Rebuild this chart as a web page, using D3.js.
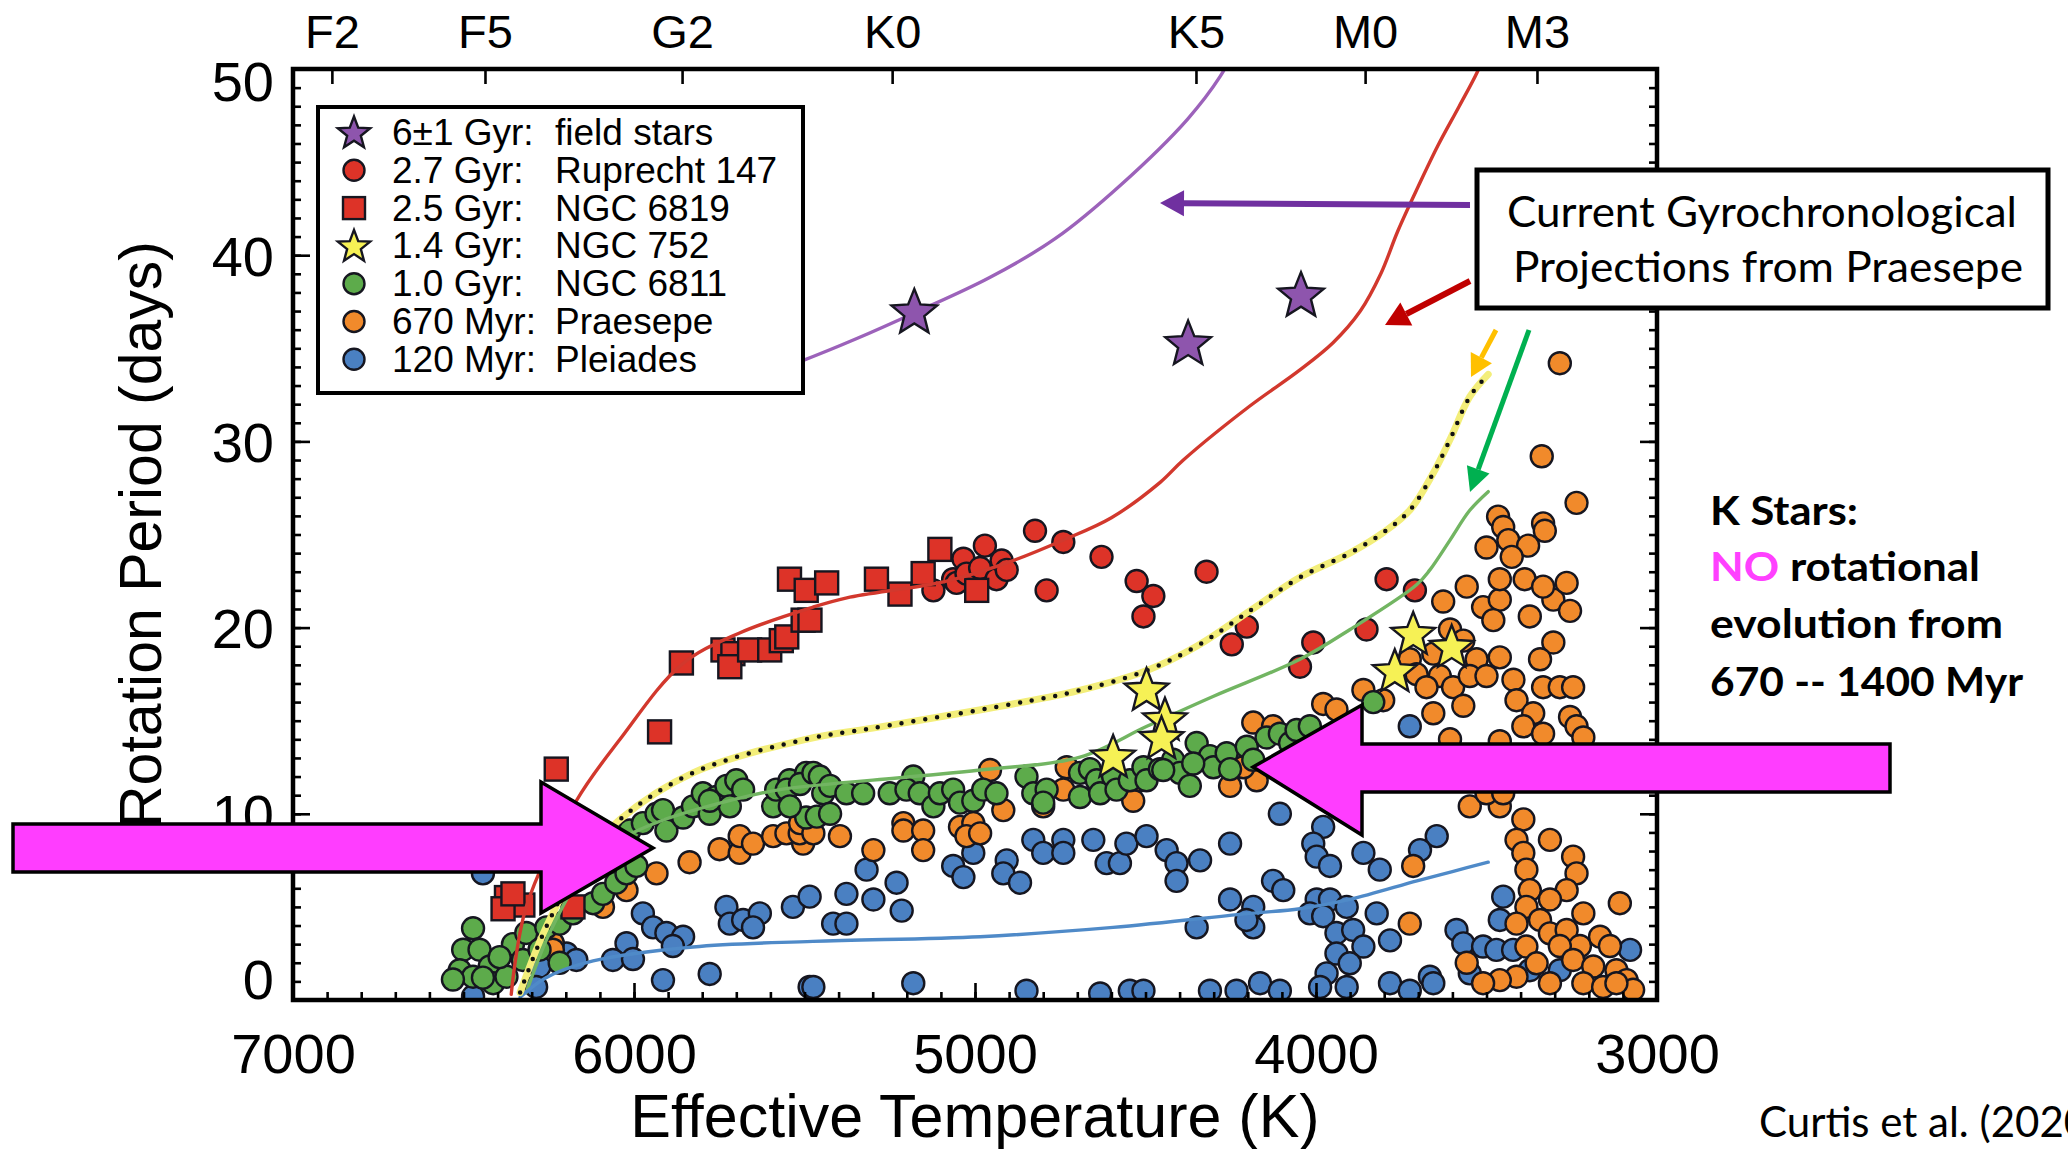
<!DOCTYPE html>
<html>
<head>
<meta charset="utf-8">
<script src="https://cdn.jsdelivr.net/npm/d3@7"></script>
<style>
  html, body { margin: 0; padding: 0; background: #fff; overflow: hidden; }
  svg { display: block; }
</style>
</head>
<body>
<svg id="chart" width="2068" height="1149"></svg>
<script>
// ---------- data: [effective temperature (K), rotation period (days)] ----------
const fieldStars = [[5178, 36.9], [4375, 35.2], [4044, 37.8]];

const ngc752 = [[4497, 16.6], [4443, 15.0], [4453, 14.0], [4595, 13.0], [3715, 19.6], [3602, 18.9], [3769, 17.6]];

const ngc6819 = [
  [6228, 12.4], [5925, 14.4], [5861, 18.1], [5739, 18.8], [5710, 18.6], [5719, 17.9], [5661, 18.8],
  [5602, 18.8], [5568, 19.3], [5552, 19.5], [5544, 22.6], [5495, 22.0], [5504, 20.4], [5484, 20.4],
  [5435, 22.4], [5289, 22.6], [5220, 21.8], [5152, 22.9], [5103, 24.2], [4995, 22.0],
  [6374, 5.5], [6326, 5.1], [6384, 4.9], [6355, 5.7], [6179, 5.0]
];

const ruprecht147 = [
  [5122, 22.0], [5064, 22.6], [5054, 22.4], [5034, 23.7], [5025, 22.9], [4985, 23.2], [4971, 24.4],
  [4937, 22.6], [4922, 23.6], [4907, 23.1], [4824, 25.2], [4790, 22.0], [4741, 24.6], [4629, 23.8],
  [4526, 22.5], [4477, 21.7], [4506, 20.6], [4321, 23.0], [4203, 20.05], [4247, 19.1], [4008, 19.2],
  [4047, 17.9], [3852, 19.9], [3793, 22.6], [3710, 22.0]
];

const ngc6811 = [
  [6472, 3.85], [6501, 2.7], [6453, 2.7], [6511, 1.6], [6472, 1.25], [6423, 1.8], [6413, 0.9], [6374, 1.25],
  [6355, 3.0], [6316, 3.6], [6326, 2.15], [6277, 2.7], [6218, 2.0], [6257, 3.9], [6218, 4.1], [6179, 4.65],
  [6120, 5.2], [6091, 5.7], [6052, 6.3], [6022, 6.8], [5993, 7.2], [6013, 9.1], [5974, 9.5], [5934, 10.0],
  [5915, 10.2], [5905, 9.1], [5856, 9.8], [5827, 10.4], [5798, 11.1], [5778, 10.0], [5759, 10.9], [5729, 11.5],
  [5700, 11.8], [5680, 11.3], [5719, 10.4], [5778, 10.7], [5592, 10.4], [5583, 11.3], [5544, 11.8], [5495, 12.2],
  [5495, 9.8], [6531, 1.1], [6394, 2.3], [6443, 1.2],
  [5552, 11.3], [5543, 10.4], [5513, 11.6], [5474, 12.2], [5455, 12.0], [5445, 11.1], [5425, 11.5], [5464, 9.85],
  [5425, 10.0], [5377, 11.1], [5328, 11.1], [5250, 11.1], [5181, 12.0], [5201, 11.3], [5162, 11.1], [5122, 10.4],
  [5103, 11.1], [5064, 11.3], [5044, 10.6], [5005, 10.7], [4976, 11.3], [4937, 11.1], [4849, 12.0], [4829, 11.1],
  [4790, 11.3], [4800, 10.6], [4692, 12.2], [4663, 12.4], [4692, 10.9], [4643, 11.8], [4633, 11.1], [4595, 12.0],
  [4585, 11.3], [4546, 11.8], [4506, 12.5], [4497, 11.8], [4458, 12.4], [4419, 12.9], [4399, 12.2], [4370, 11.5],
  [4350, 13.8], [4311, 13.1], [4301, 12.5], [4262, 13.25], [4252, 12.4], [4203, 13.6], [4184, 12.9], [4145, 14.1],
  [4106, 14.3], [4076, 13.8], [4057, 14.5], [4018, 14.7], [3832, 16.0], [4360, 12.7], [4448, 12.35]
];

const praesepe = [
  [5837, 7.4], [5934, 6.8], [5749, 8.1], [5690, 7.9], [5690, 8.8], [5651, 8.4], [5592, 8.8], [5553, 8.95],
  [5504, 8.4], [5514, 8.95], [6091, 5.0], [6022, 5.9], [6238, 3.05], [6238, 2.7],
  [5513, 9.5], [5474, 8.95], [5396, 8.8], [5298, 8.05], [5210, 9.5], [5210, 9.1], [5152, 9.1], [5152, 8.05],
  [5044, 9.3], [5005, 9.5], [5025, 8.8], [4985, 8.95], [4956, 12.35], [4917, 10.2], [4800, 10.4], [4731, 12.5],
  [4741, 11.3], [4536, 10.7], [4516, 11.8], [4184, 14.9], [4126, 14.7], [4174, 11.8], [4252, 11.5],
  [4213, 12.5], [3979, 15.9], [3940, 15.6], [3861, 16.65], [3803, 16.1],
  [3627, 21.4], [3510, 21.1], [3461, 21.5], [3304, 21.5], [3255, 20.9], [3373, 20.6], [3480, 20.4],
  [3607, 19.9], [3568, 19.3], [3529, 18.3], [3461, 18.4], [3656, 18.6], [3725, 18.3], [3705, 17.5], [3637, 17.4],
  [3598, 16.8], [3676, 16.8], [3549, 17.4], [3500, 17.4], [3656, 15.4], [3568, 15.8],
  [3304, 19.2], [3343, 18.3], [3421, 17.2], [3334, 16.8], [3285, 16.8], [3246, 16.8], [3412, 16.1], [3363, 15.4],
  [3392, 14.7], [3255, 15.2], [3236, 14.7], [3216, 14.1], [3334, 14.3], [3461, 13.9],
  [3607, 14.0], [3549, 10.4], [3461, 10.4], [3500, 11.1], [3451, 11.1],
  [3392, 9.7], [3412, 8.6], [3392, 7.9], [3314, 8.6], [3246, 7.7], [3236, 6.8], [3383, 7.0], [3373, 5.9],
  [3265, 5.9], [3314, 5.4], [3216, 4.65], [3109, 5.2], [3383, 5.0], [3412, 4.1], [3343, 4.3], [3314, 3.58],
  [3265, 3.76], [3167, 3.4], [3138, 2.9], [3226, 2.9], [3285, 2.9], [3383, 2.87], [3353, 1.97], [3246, 2.15],
  [3187, 1.8], [3119, 1.6], [3089, 1.07], [3412, 1.25], [3461, 1.07], [3510, 0.9], [3558, 2.0], [3314, 0.9],
  [3216, 0.9], [3158, 0.7], [3070, 0.55], [3715, 7.2], [3725, 4.1], [3119, 0.9],
  [3285, 34.2], [3338, 29.2], [3236, 26.7], [3466, 25.96], [3451, 25.4], [3334, 25.6], [3329, 25.2], [3500, 24.3],
  [3436, 24.7], [3378, 24.4], [3426, 23.8], [3558, 22.2], [3461, 22.6], [3388, 22.6], [3334, 22.2], [3265, 22.4]
];

const pleiades = [
  [5974, 4.65], [5944, 3.9], [5905, 3.6], [5856, 3.4], [5886, 2.9], [6022, 3.05], [6062, 2.15], [6003, 2.2],
  [5915, 1.07], [5778, 1.4], [5729, 5.0], [5719, 4.1], [5680, 4.3], [5631, 4.65], [5651, 3.9], [5534, 5.0],
  [5485, 5.55], [5485, 0.7], [6198, 2.5], [6169, 2.15], [6277, 1.8], [6287, 0.7], [6472, 0.2], [6443, 6.8],
  [5416, 4.1], [5377, 4.1], [5377, 5.7], [5318, 7.0], [5298, 5.4], [5230, 6.3], [5215, 4.8], [5064, 7.2],
  [5005, 7.9], [5034, 6.6], [4907, 7.5], [4917, 6.8], [4868, 6.3], [4829, 8.6], [4800, 7.9], [4741, 8.6],
  [4741, 7.9], [4653, 8.6], [4614, 7.35], [4575, 7.35], [4556, 8.4], [4497, 8.8], [4438, 8.05], [4409, 7.35],
  [4409, 6.4], [4340, 7.5], [4252, 8.4], [4126, 6.4], [4096, 5.9], [4252, 5.4], [4184, 5.0], [4184, 3.9],
  [4350, 3.9], [4106, 10.0], [4204, 4.3],
  [5474, 0.7], [5181, 0.9], [4849, 0.5], [4633, 0.35], [4546, 0.5], [4506, 0.5], [4311, 0.5], [4233, 0.5],
  [4164, 0.9], [4106, 0.5],
  [3725, 14.7], [3979, 9.3], [4008, 8.4], [3998, 7.7], [3959, 7.2], [3861, 7.9], [3813, 7.0], [3646, 8.8],
  [3695, 8.05], [3998, 5.4], [3959, 5.4], [3910, 5.0], [4018, 4.65], [3979, 4.5], [3940, 3.6], [3891, 3.76],
  [3822, 4.65], [3783, 3.2], [3861, 2.87], [3940, 2.5], [3901, 1.97], [3969, 1.43], [3988, 0.7], [3910, 0.7],
  [3783, 0.9], [3725, 0.5], [3666, 1.25], [3588, 3.76], [3568, 3.04], [3510, 2.87], [3451, 5.55], [3461, 4.3],
  [3471, 2.69], [3422, 2.69], [3549, 1.43], [3079, 2.69], [3656, 0.9], [3373, 1.6], [3285, 1.6]
];

// gyrochronological model tracks
const trackField = [[5750, 32.7], [5511, 34.3], [5350, 35.5], [5178, 36.9], [4957, 38.8], [4764, 40.9],
  [4571, 43.8], [4377, 47.3], [4281, 49.6], [4240, 51]];
const trackRup = [[6360, 0.3], [6316, 5.0], [6169, 10.7], [6041, 14.0], [5861, 18.0], [5692, 19.7],
  [5475, 21.1], [5376, 21.6], [5083, 22.5], [4888, 23.6], [4741, 24.7], [4600, 25.9], [4457, 27.8],
  [4389, 29.0], [4194, 31.9], [4050, 33.8], [3950, 35.3], [3870, 37.0], [3810, 39.0], [3760, 41.3],
  [3700, 43.7], [3642, 45.9], [3580, 48.0], [3528, 49.8], [3505, 50.8]];
const track752 = [[6334, 0.4], [6258, 3.9], [6150, 7.5], [6041, 9.7], [5827, 12.2], [5496, 14.0],
  [5300, 14.6], [4889, 15.9], [4700, 16.6], [4496, 17.7], [4350, 19.0], [4194, 20.9], [4047, 22.7],
  [3901, 24.0], [3803, 25.1], [3725, 26.3], [3656, 28.3], [3607, 30.1], [3549, 32.4], [3495, 33.6]];
const track6811 = [[6316, 0.4], [6250, 3.5], [6150, 6.8], [6050, 8.5], [5924, 9.6], [5700, 10.8],
  [5572, 11.3], [5182, 12.0], [4985, 12.35], [4692, 13.05], [4496, 14.7], [4302, 16.3], [4047, 18.3],
  [3900, 19.9], [3705, 22.3], [3666, 23.1], [3607, 24.7], [3549, 26.3], [3495, 27.3]];
const trackPle = [[6334, 0.15], [6258, 1.2], [6120, 2.1], [5827, 2.85], [5475, 3.15], [4985, 3.4],
  [4595, 3.9], [4194, 4.65], [4047, 4.9], [3900, 5.4], [3704, 6.4], [3600, 6.9], [3495, 7.4]];

// axis ticks and labels
const tempTicks = [7000, 6000, 5000, 4000, 3000];
const periodTicks = [0, 10, 20, 30, 40, 50];
const spectralTypes = ["F2", "F5", "G2", "K0", "K5", "M0", "M3"];
const spectralTemps = [6886, 6437, 5859, 5243, 4352, 3856, 3352];

const legendAges = ["6±1 Gyr:", "2.7 Gyr:", "2.5 Gyr:", "1.4 Gyr:", "1.0 Gyr:", "670 Myr:", "120 Myr:"];
const legendNames = ["field stars", "Ruprecht 147", "NGC 6819", "NGC 752", "NGC 6811", "Praesepe", "Pleiades"];

// ---------- drawing ----------
const svg = d3.select("#chart");
const PL = 293, PR = 1657, PT = 69, PB = 1000;
const x = d3.scaleLinear().domain([7000, 3000]).range([PL, PR]);
const y = d3.scaleLinear().domain([0, 50]).range([PB, PT]);

const COL = {
  purple: "#8e55ad", red: "#dd3328", yellow: "#f6f155", green: "#5dab4b",
  orange: "#f18a2b", blue: "#4a80c2"
};
const LINE = {
  purple: "#9c62ba", red: "#d2382d", green: "#72b562", blue: "#4f8ac8", yellow: "#f3ee7a"
};
const EDGE = "#161620";
const plotFont = "'Liberation Sans', Arial, Helvetica, sans-serif";
const noteFont = "Lato, 'Open Sans', sans-serif";
const R_PT = 11;

svg.append("rect").attr("width", 2068).attr("height", 1149).attr("fill", "#fff");

svg.append("clipPath").attr("id", "plotClip")
  .append("rect").attr("x", PL).attr("y", PT).attr("width", PR - PL).attr("height", PB - PT);

const plot = svg.append("g").attr("clip-path", "url(#plotClip)");

function starPath(R, r) {
  const pts = [];
  for (let i = 0; i < 10; i++) {
    const a = -Math.PI / 2 + i * Math.PI / 5;
    const rad = i % 2 === 0 ? R : r;
    pts.push([rad * Math.cos(a), rad * Math.sin(a)]);
  }
  return "M" + pts.map(p => p[0].toFixed(2) + "," + p[1].toFixed(2)).join("L") + "Z";
}

function circles(g, data, fill) {
  g.selectAll(null).data(data).join("circle")
    .attr("cx", d => x(d[0])).attr("cy", d => y(d[1])).attr("r", R_PT)
    .attr("fill", fill).attr("stroke", EDGE).attr("stroke-width", 2.4);
}

// scatter, oldest on top
circles(plot.append("g"), pleiades, COL.blue);
circles(plot.append("g"), praesepe, COL.orange);
circles(plot.append("g"), ngc6811, COL.green);
circles(plot.append("g"), ruprecht147, COL.red);
plot.append("g").selectAll(null).data(ngc6819).join("rect")
  .attr("x", d => x(d[0]) - 11.5).attr("y", d => y(d[1]) - 11.5)
  .attr("width", 23).attr("height", 23)
  .attr("fill", COL.red).attr("stroke", EDGE).attr("stroke-width", 2.4);

// model tracks
const line = d3.line().x(d => x(d[0])).y(d => y(d[1])).curve(d3.curveCatmullRom.alpha(0.5));
const tracks = plot.append("g").attr("fill", "none").attr("stroke-linecap", "round");
tracks.append("path").attr("d", line(trackField)).attr("stroke", LINE.purple).attr("stroke-width", 3.4);
tracks.append("path").attr("d", line(trackRup)).attr("stroke", LINE.red).attr("stroke-width", 3.4);
tracks.append("path").attr("d", line(track6811)).attr("stroke", LINE.green).attr("stroke-width", 3.4);
tracks.append("path").attr("d", line(trackPle)).attr("stroke", LINE.blue).attr("stroke-width", 3.4);
tracks.append("path").attr("d", line(track752)).attr("stroke", LINE.yellow).attr("stroke-width", 7);
tracks.append("path").attr("d", line(track752)).attr("stroke", "#111")
  .attr("stroke-width", 4.5).attr("stroke-dasharray", "0 12");

// star markers
plot.append("g").selectAll(null).data(ngc752).join("path")
  .attr("d", starPath(23, 10)).attr("transform", d => `translate(${x(d[0])},${y(d[1])})`)
  .attr("fill", COL.yellow).attr("stroke", EDGE).attr("stroke-width", 2.4);
plot.append("g").selectAll(null).data(fieldStars).join("path")
  .attr("d", starPath(24, 10.5)).attr("transform", d => `translate(${x(d[0])},${y(d[1])})`)
  .attr("fill", COL.purple).attr("stroke", EDGE).attr("stroke-width", 2.4);

// ---------- axes ----------
function styleAxis(g) {
  g.select(".domain").remove();
  g.selectAll(".tick line").attr("stroke", "#000").attr("stroke-width", 2.6);
  g.selectAll(".tick text").attr("fill", "#000").attr("font-family", plotFont);
}

const minorT = d3.range(3000, 7001, 100);
const minorP = d3.range(0, 51, 1);

svg.append("g").attr("transform", `translate(0,${PB})`)
  .call(d3.axisBottom(x).tickValues(minorT).tickSize(-8).tickFormat(""))
  .call(styleAxis);
svg.append("g").attr("transform", `translate(0,${PB})`)
  .call(d3.axisBottom(x).tickValues(tempTicks).tickSize(-17).tickPadding(33).tickFormat(d3.format("d")))
  .call(styleAxis)
  .call(g => g.selectAll(".tick text").attr("font-size", 56));

svg.append("g").attr("transform", `translate(${PL},0)`)
  .call(d3.axisLeft(y).tickValues(minorP).tickSize(-8).tickFormat(""))
  .call(styleAxis);
const yAxisG = svg.append("g").attr("transform", `translate(${PL},0)`)
  .call(d3.axisLeft(y).tickValues(periodTicks).tickSize(-17).tickPadding(19))
  .call(styleAxis)
  .call(g => g.selectAll(".tick text").attr("font-size", 56));
// edge labels sit inside the frame
yAxisG.selectAll(".tick text").attr("dy", d => d === 50 ? "0.57em" : d === 0 ? "-0.02em" : "0.36em");

svg.append("g").attr("transform", `translate(${PR},0)`)
  .call(d3.axisRight(y).tickValues(minorP).tickSize(-8).tickFormat(""))
  .call(styleAxis);
svg.append("g").attr("transform", `translate(${PR},0)`)
  .call(d3.axisRight(y).tickValues(periodTicks).tickSize(-17).tickFormat(""))
  .call(styleAxis);

svg.append("g").attr("transform", `translate(0,${PT})`)
  .call(d3.axisTop(x).tickValues(spectralTemps).tickSize(-15).tickPadding(21)
    .tickFormat((d, i) => spectralTypes[i]))
  .call(styleAxis)
  .call(g => g.selectAll(".tick text").attr("font-size", 47));

// frame
svg.append("rect").attr("x", PL).attr("y", PT).attr("width", PR - PL).attr("height", PB - PT)
  .attr("fill", "none").attr("stroke", "#000").attr("stroke-width", 4.5);

// axis titles
svg.append("text").attr("x", (PL + PR) / 2).attr("y", 1137).attr("text-anchor", "middle")
  .attr("font-family", plotFont).attr("font-size", 61).attr("fill", "#000")
  .text("Effective Temperature (K)");
svg.append("text").attr("transform", `translate(161,${(PT + PB) / 2}) rotate(-90)`)
  .attr("text-anchor", "middle").attr("font-family", plotFont).attr("font-size", 59).attr("fill", "#000")
  .text("Rotation Period (days)");

// ---------- legend ----------
const lg = svg.append("g");
lg.append("rect").attr("x", 318).attr("y", 107).attr("width", 485).attr("height", 286)
  .attr("fill", "#fff").attr("stroke", "#000").attr("stroke-width", 4);
const legendMarks = [
  { type: "star", fill: COL.purple }, { type: "circle", fill: COL.red }, { type: "square", fill: COL.red },
  { type: "star", fill: COL.yellow }, { type: "circle", fill: COL.green }, { type: "circle", fill: COL.orange },
  { type: "circle", fill: COL.blue }
];
legendAges.forEach((age, i) => {
  const base = 145 + i * 37.8;
  const cy = base - 12.5;
  const m = legendMarks[i];
  if (m.type === "circle") {
    lg.append("circle").attr("cx", 354).attr("cy", cy).attr("r", 10.5)
      .attr("fill", m.fill).attr("stroke", EDGE).attr("stroke-width", 2.4);
  } else if (m.type === "square") {
    lg.append("rect").attr("x", 343).attr("y", cy - 11).attr("width", 22).attr("height", 22)
      .attr("fill", m.fill).attr("stroke", EDGE).attr("stroke-width", 2.4);
  } else {
    lg.append("path").attr("d", starPath(17, 7.2)).attr("transform", `translate(354,${cy + 1})`)
      .attr("fill", m.fill).attr("stroke", EDGE).attr("stroke-width", 2.4);
  }
  lg.append("text").attr("x", 392).attr("y", base).attr("font-family", plotFont).attr("font-size", 37)
    .attr("fill", "#000").text(age);
  lg.append("text").attr("x", 555).attr("y", base).attr("font-family", plotFont).attr("font-size", 37)
    .attr("fill", "#000").text(legendNames[i]);
});

// ---------- annotations ----------
const ann = svg.append("g");

function arrow(g, x1, y1, x2, y2, color, w, headLen, headW) {
  const ang = Math.atan2(y2 - y1, x2 - x1);
  const bx = x2 - headLen * Math.cos(ang), by = y2 - headLen * Math.sin(ang);
  g.append("line").attr("x1", x1).attr("y1", y1).attr("x2", bx).attr("y2", by)
    .attr("stroke", color).attr("stroke-width", w);
  const px = -Math.sin(ang) * headW / 2, py = Math.cos(ang) * headW / 2;
  g.append("path").attr("d", `M${x2},${y2}L${bx + px},${by + py}L${bx - px},${by - py}Z`).attr("fill", color);
}
arrow(ann, 1470, 205, 1160, 203, "#7030a0", 6, 24, 26);
arrow(ann, 1470, 281, 1385, 325, "#c00000", 6, 24, 26);
arrow(ann, 1496, 330, 1471, 377, "#ffc000", 5, 22, 24);
arrow(ann, 1529, 330, 1470, 492, "#00b050", 5, 24, 24);

// callout box
ann.append("rect").attr("x", 1477).attr("y", 170).attr("width", 571).attr("height", 138)
  .attr("fill", "#fff").attr("stroke", "#000").attr("stroke-width", 5);
ann.append("text").attr("x", 1507).attr("y", 227).attr("font-family", noteFont).attr("font-size", 42)
  .attr("textLength", 510).attr("lengthAdjust", "spacingAndGlyphs").attr("fill", "#000")
  .text("Current Gyrochronological");
ann.append("text").attr("x", 1513).attr("y", 282).attr("font-family", noteFont).attr("font-size", 42)
  .attr("textLength", 510).attr("lengthAdjust", "spacingAndGlyphs").attr("fill", "#000")
  .text("Projections from Praesepe");

// K star note
const noteLines = [
  { y: 525, w: 148, parts: [["K Stars:", "#000"]] },
  { y: 581, w: 270, parts: [["NO", "#ff40ff"], [" rotational", "#000"]] },
  { y: 638, w: 293, parts: [["evolution from", "#000"]] },
  { y: 696, w: 313, parts: [["670 -- 1400 Myr", "#000"]] }
];
noteLines.forEach(l => {
  const t = ann.append("text").attr("x", 1710).attr("y", l.y).attr("font-family", noteFont)
    .attr("font-weight", 700).attr("font-size", 41)
    .attr("textLength", l.w).attr("lengthAdjust", "spacingAndGlyphs");
  l.parts.forEach(p => t.append("tspan").attr("fill", p[1]).text(p[0]));
});

ann.append("text").attr("x", 1759).attr("y", 1137).attr("font-family", noteFont).attr("font-size", 42)
  .attr("fill", "#000").text("Curtis et al. (2020)");

// large highlight arrows
const bigArrow = (pts) => ann.append("path").attr("d", "M" + pts.map(p => p.join(",")).join("L") + "Z")
  .attr("fill", "#ff3dff").attr("stroke", "#000").attr("stroke-width", 3.5).attr("stroke-linejoin", "miter");
bigArrow([[13, 824], [541, 824], [541, 782], [653, 848], [541, 913], [541, 872], [13, 872]]);
bigArrow([[1890, 744], [1362, 744], [1362, 705], [1253, 767], [1362, 835], [1362, 792], [1890, 792]]);
</script>
</body>
</html>
